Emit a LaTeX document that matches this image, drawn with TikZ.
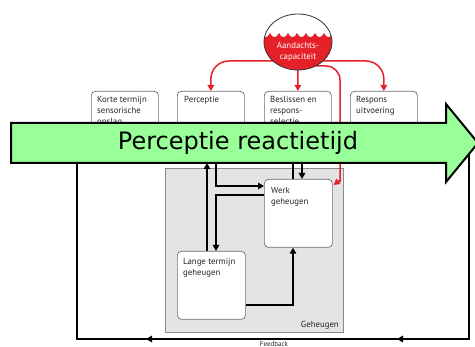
\documentclass[tikz,border=0pt]{standalone}
\usepackage{fontspec}
\setmainfont{PT Sans}
\newfontfamily\djv{DejaVu Sans}
\usetikzlibrary{arrows.meta,calc,shapes.geometric}
\definecolor{redA}{RGB}{230,32,40}
\definecolor{greenA}{RGB}{153,255,153}
\definecolor{boxline}{RGB}{110,110,110}
\definecolor{grayfill}{RGB}{228,228,228}
\begin{document}
\begin{tikzpicture}[x=1pt,y=-1pt,
  box/.style={draw=boxline, rounded corners=4pt, fill=white, line width=0.7pt, inner sep=0pt, anchor=north west, minimum width=67pt},
  txt/.style={font=\fontsize{8.8}{11}\selectfont, align=left, anchor=north west, inner sep=0pt, text=black!85},
  blk/.style={line width=1.6pt, -{Triangle[length=6pt,width=6.5pt]}},
  blkline/.style={line width=1.6pt},
  redline/.style={draw=redA, line width=1.5pt, -{Triangle[length=6pt,width=6.5pt]}}
]
\useasboundingbox (0,0) rectangle (475,347);

% feedback loop
\draw[blkline] (77,163) |- (469,339) -- (469,150);
\draw[blk] (154,339) -- (146,339);
\draw[blk] (405,339) -- (397,339);
\node[txt, anchor=south, font=\fontsize{7}{7.5}\selectfont] (fb) at (274,346.3) {Feedback};

% top boxes
\node[box, minimum height=60pt] (korte) at (91,91) {};
\node[box, minimum height=60pt] (perc) at (177,91) {};
\node[box, minimum height=60pt] (besl) at (264,91) {};
\node[box, minimum height=60pt] (resp) at (350,91) {};
\node[txt] (tkorte) at (97,96) {Korte termijn\\sensorische\\opslag};
\node[txt] (tperc) at (184,96) {Perceptie};
\node[txt] (tbesl) at (270,96) {Beslissen en\\respons-\\selectie};
\node[txt] (tresp) at (356,96) {Respons\\uitvoering};

% memory
\node[draw=boxline!80, fill=grayfill, line width=0.7pt, anchor=north west, minimum width=178pt, minimum height=164pt, inner sep=0pt] (geh) at (165,168) {};
\node[txt, anchor=south east] (tgeh) at (339,330) {Geheugen};
\node[box, minimum width=68pt, minimum height=68pt] (werk) at (264,179) {};
\node[box, minimum width=68pt, minimum height=68pt] (lange) at (177,251) {};
\node[txt] (twerk) at (271,187) {Werk\\geheugen};
\node[txt] (tlange) at (183,258) {Lange termijn\\geheugen};

% red lines
\node[draw=none, ellipse, minimum width=68pt, minimum height=56pt, inner sep=0pt] (cap) at (298,42) {};
\draw[redline, rounded corners=18pt] (275,61) -| (perc.north);
\draw[redline, rounded corners=18pt] (321,61) -| (resp.north);
\draw[redline] (cap.south) -- (besl.north);
\coordinate (wr) at ($(werk.north east)+(1,6)$);
\draw[redline] (316,66) [rounded corners=14pt] -| (340,168) [sharp corners] .. controls (340,180) .. (wr);

% black connectors
\coordinate (gb) at (0,163);
\coordinate (l1) at ($(lange.north west)+(30,0)$);
\coordinate (l2) at ($(lange.north west)+(39,0)$);
\coordinate (w1) at ($(werk.north west)+(0,7)$);
\coordinate (w2) at ($(werk.north west)+(0,16)$);
\coordinate (w3) at ($(werk.north west)+(29,0)$);
\coordinate (w4) at ($(werk.north west)+(38,0)$);
\coordinate (w5) at ($(werk.south west)+(29,0)$);
\coordinate (l3) at ($(lange.north east)+(0,54)$);
\draw[blk] (l1) -- (l1 |- gb);
\draw[blk] (l2 |- gb) |- (w1);
\draw[blk] (w2) -| (l2);
\draw[blkline] (w3) -- (w3 |- gb);
\draw[blk] (w4 |- gb) -- (w4);
\draw[blk] (l3) -| (w5);

% green arrow
\draw[line width=2pt, fill=greenA, line join=miter] (11,123) -- (446,123) -- (446,104) -- (478,143) -- (446,182) -- (446,163) -- (11,163) -- cycle;
\node[font=\djv\fontsize{24}{24}\selectfont, inner sep=0pt] (ga) at (238,143) {Perceptie reactietijd};

% attention capacity circle
\begin{scope}
\clip (298,42) ellipse [x radius=34, y radius=28];
\fill[white] (298,42) ellipse [x radius=34, y radius=28];
\fill[redA] (261,33) \foreach \k in {0,...,7} { .. controls ({263+9*\k},38.5) and ({268+9*\k},38.5) .. ({270+9*\k},33) } -- (340,33) -- (340,80) -- (255,80) -- (255,33) -- cycle;
\end{scope}
\draw[line width=0.8pt, black!80] (cap.center) ellipse [x radius=34, y radius=28];
\node[txt, anchor=center, align=center, text=white] (tcap) at (298,52) {Aandachts-\\capaciteit};
\end{tikzpicture}
\end{document}
